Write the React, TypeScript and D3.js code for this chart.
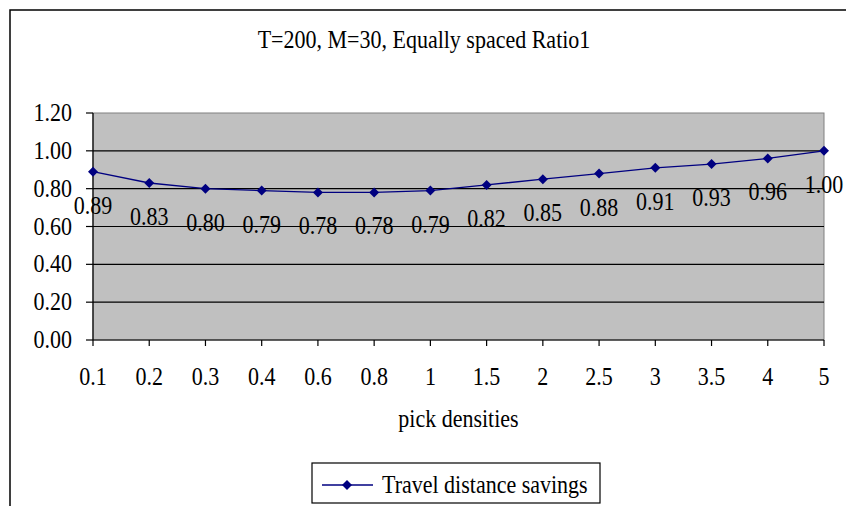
import React from "react";
import * as d3 from "d3";

const categories = ["0.1", "0.2", "0.3", "0.4", "0.6", "0.8", "1", "1.5", "2", "2.5", "3", "3.5", "4", "5"];
const savings = [0.89, 0.83, 0.8, 0.79, 0.78, 0.78, 0.79, 0.82, 0.85, 0.88, 0.91, 0.93, 0.96, 1.0];
const yTicks = [0, 0.2, 0.4, 0.6, 0.8, 1.0, 1.2];
const title = "T=200, M=30, Equally spaced Ratio1";
const xTitle = "pick densities";
const seriesName = "Travel distance savings";

const W = 846;
const H = 506;
const plot = { left: 93, right: 824, top: 113, bottom: 340 };
const FONT = "Liberation Serif, Times New Roman, serif";
const NAVY = "#000080";

// Serif text, slightly stretched vertically like the classic chart typeface
function Label({
  x,
  y,
  anchor = "middle",
  children,
}: {
  x: number;
  y: number;
  anchor?: "start" | "middle" | "end";
  children: React.ReactNode;
}) {
  return (
    <text
      transform={`translate(${x},${y}) scale(1,1.13)`}
      textAnchor={anchor}
      fontSize={22}
      fontFamily={FONT}
      fill="#000"
    >
      {children}
    </text>
  );
}

export default function App() {
  const x = d3
    .scalePoint<string>()
    .domain(categories)
    .range([plot.left, plot.right]);
  const y = d3.scaleLinear().domain([0, 1.2]).range([plot.bottom, plot.top]);

  const line = d3
    .line<number>()
    .x((_, i) => x(categories[i]) as number)
    .y((d) => y(d));

  const diamond = (cx: number, cy: number, r: number) =>
    `M${cx},${cy - r}L${cx + r},${cy}L${cx},${cy + r}L${cx - r},${cy}Z`;

  return (
    <svg
      width={W}
      height={H}
      style={{ position: "absolute", left: 0, top: 0, display: "block", background: "#fff" }}
    >
      {/* chart frame */}
      <rect x={10} y={10} width={W + 20} height={H + 20} fill="#fff" stroke="#000" strokeWidth={1.5} />

      <Label x={424} y={48}>{title}</Label>

      {/* plot area */}
      <rect
        x={plot.left}
        y={plot.top}
        width={plot.right - plot.left}
        height={plot.bottom - plot.top}
        fill="#C0C0C0"
        stroke="#808080"
        strokeWidth={1}
      />

      {/* gridlines */}
      {yTicks
        .filter((t) => t > 0 && t < 1.2)
        .map((t) => (
          <line key={t} x1={plot.left} x2={plot.right} y1={y(t)} y2={y(t)} stroke="#000" strokeWidth={1.2} />
        ))}

      {/* y axis */}
      <line x1={plot.left} x2={plot.left} y1={plot.top} y2={plot.bottom} stroke="#000" strokeWidth={1.2} />
      {yTicks.map((t) => (
        <g key={t}>
          <line x1={plot.left - 7} x2={plot.left} y1={y(t)} y2={y(t)} stroke="#000" strokeWidth={1.2} />
          <Label x={72} y={y(t) + 8} anchor="end">
            {d3.format(".2f")(t)}
          </Label>
        </g>
      ))}

      {/* x axis */}
      <line x1={plot.left} x2={plot.right} y1={plot.bottom} y2={plot.bottom} stroke="#000" strokeWidth={1.2} />
      {categories.map((c) => (
        <g key={c}>
          <line x1={x(c)} x2={x(c)} y1={plot.bottom} y2={plot.bottom + 6} stroke="#000" strokeWidth={1.2} />
          <Label x={x(c) as number} y={385}>{c}</Label>
        </g>
      ))}
      <Label x={(plot.left + plot.right) / 2} y={427}>{xTitle}</Label>

      {/* series */}
      <path d={line(savings) ?? ""} fill="none" stroke={NAVY} strokeWidth={1.3} />
      {savings.map((v, i) => (
        <path key={i} d={diamond(x(categories[i]) as number, y(v), 5)} fill={NAVY} />
      ))}
      {savings.map((v, i) => (
        <Label key={`l${i}`} x={x(categories[i]) as number} y={y(v) + 42}>
          {d3.format(".2f")(v)}
        </Label>
      ))}

      {/* legend */}
      <rect x={312} y={463} width={288} height={40} fill="#fff" stroke="#000" strokeWidth={1.2} />
      <line x1={322} x2={373} y1={485} y2={485} stroke={NAVY} strokeWidth={1.3} />
      <path d={diamond(347, 485, 5)} fill={NAVY} />
      <Label x={382} y={493} anchor="start">{seriesName}</Label>
    </svg>
  );
}
